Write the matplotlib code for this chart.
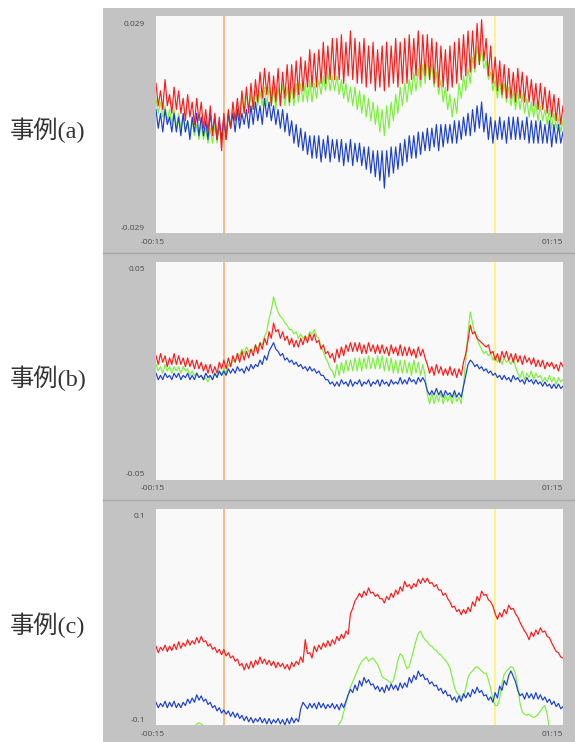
import numpy as np
import matplotlib
matplotlib.use("Agg")
import matplotlib.pyplot as plt
from matplotlib.patches import Rectangle
from matplotlib.lines import Line2D

# ---------------- data: one reading every half minute, -00:15 .. 01:15 ----------------
minutes = np.arange(-15, 75.5, 0.5)

# case (a), values in units of 1e-3 (each row = 5 minutes)
red_a_milli = [
    11, 5, 9, 4, 12, 5, 8, 3, 10, 4,
    9, 3, 7, 1, 8, 2, 6, 0, 7, 1,
    6, -1, 4, -2, 5, -3, 3, -4, 2, -7,
    3, -4, 4, -1, 6, 1, 7, 1, 9, 3,
    10, 3, 11, 4, 12, 6, 14, 7, 15, 8,
    14, 5, 13, 6, 15, 5, 14, 7, 16, 6,
    16, 7, 17, 8, 18, 9, 17, 10, 20, 10,
    19, 10, 20, 11, 22, 11, 21, 12, 23, 12,
    23, 12, 24, 11, 22, 13, 25, 12, 23, 11,
    22, 11, 23, 10, 21, 11, 22, 9, 20, 10,
    21, 9, 22, 10, 21, 11, 23, 10, 22, 11,
    23, 11, 24, 12, 23, 13, 25, 12, 24, 13,
    24, 12, 23, 11, 22, 10, 21, 10, 20, 9,
    21, 10, 22, 11, 23, 12, 24, 13, 25, 14,
    25, 15, 27, 16, 28, 17, 23, 13, 21, 11,
    18, 9, 17, 8, 16, 7, 15, 7, 14, 6,
    15, 7, 14, 6, 13, 6, 12, 5, 11, 4,
    11, 4, 10, 3, 9, 2, 8, 1, 7, 0,
    5]
green_a_milli = [
    7, 3, 6, 2, 5, 1, 4, 0, 4, -1,
    3, -1, 2, -2, 1, -3, 1, -3, 0, -4,
    0, -4, -1, -5, -1, -5, 0, -5, 0, -4,
    0, -3, 2, -1, 4, 1, 5, 2, 7, 3,
    8, 4, 8, 4, 9, 5, 9, 5, 10, 5,
    10, 5, 10, 4, 10, 5, 11, 5, 10, 5,
    10, 5, 11, 6, 11, 6, 11, 6, 12, 6,
    11, 7, 12, 8, 13, 9, 14, 9, 13, 9,
    13, 8, 12, 7, 11, 6, 10, 5, 10, 4,
    9, 3, 8, 2, 7, 1, 6, 0, 5, -2,
    4, -3, 5, -1, 6, 1, 8, 3, 10, 5,
    11, 6, 12, 8, 14, 9, 15, 10, 16, 11,
    17, 12, 16, 10, 14, 8, 12, 6, 10, 4,
    8, 2, 7, 3, 11, 7, 13, 9, 15, 11,
    18, 14, 21, 16, 20, 15, 17, 12, 14, 9,
    12, 7, 12, 7, 11, 6, 10, 5, 9, 4,
    9, 4, 8, 3, 7, 2, 6, 2, 6, 1,
    5, 1, 4, 0, 4, -1, 3, -1, 2, -2,
    1]
blue_a_milli = [
    4, -1, 3, -2, 4, 0, 2, -2, 3, -2,
    2, -3, 3, -2, 1, -4, 2, -2, 3, -3,
    2, -3, 1, -4, 3, -2, 2, -4, 1, -4,
    2, -4, 3, -1, 3, -2, 4, -1, 3, 0,
    4, -1, 5, 0, 6, 1, 5, 0, 7, 2,
    6, 1, 5, 0, 4, -1, 4, -2, 3, -3,
    1, -5, 0, -6, -1, -7, -2, -8, -3, -9,
    -3, -9, -3, -10, -4, -9, -3, -10, -4, -9,
    -4, -10, -4, -11, -5, -10, -4, -11, -5, -10,
    -5, -11, -6, -12, -6, -13, -7, -14, -7, -15,
    -7, -17, -7, -14, -6, -13, -6, -12, -5, -11,
    -4, -10, -3, -9, -3, -9, -2, -8, -2, -7,
    -1, -7, -1, -6, 0, -7, 0, -6, 0, -5,
    0, -5, 1, -5, 1, -4, 2, -3, 3, -3,
    4, -2, 5, -1, 6, -2, 3, -4, 2, -5,
    1, -4, 2, -4, 1, -5, 2, -4, 2, -4,
    2, -4, 1, -4, 2, -5, 1, -5, 1, -5,
    1, -5, 0, -5, 1, -6, 0, -5, 0, -5,
    -2]

# case (b), values in units of 1e-3
red_b_milli = [
    7, 3, 8, 4, 7, 2, 6, 3, 8, 3,
    7, 3, 6, 2, 6, 2, 5, 1, 5, 1,
    4, 0, 3, -1, 3, -1, 2, -1, 4, 1,
    5, 1, 6, 2, 7, 4, 8, 4, 9, 5,
    9, 6, 10, 7, 12, 8, 13, 10, 15, 12,
    18, 15, 22, 18, 19, 15, 18, 14, 16, 12,
    15, 11, 14, 11, 15, 12, 16, 13, 17, 14,
    17, 13, 14, 10, 12, 8, 9, 6, 8, 4,
    10, 6, 11, 7, 12, 9, 13, 9, 13, 9,
    13, 8, 12, 8, 13, 9, 12, 8, 12, 8,
    12, 8, 11, 7, 12, 8, 11, 7, 12, 7,
    11, 7, 11, 7, 10, 6, 11, 7, 10, 6,
    3, -1, 2, -2, 3, -1, 2, -2, 1, -2,
    2, -2, 1, -3, 1, -2, 4, 8, 14, 21,
    17, 18, 15, 14, 13, 12, 11, 12, 8, 9,
    5, 8, 4, 9, 6, 9, 5, 8, 4, 8,
    4, 7, 3, 7, 4, 6, 3, 6, 2, 5,
    2, 5, 1, 4, 2, 4, 1, 3, 0, 4,
    2]
green_b_milli = [
    3, 0, 2, -1, 3, 0, 2, -1, 2, 0,
    2, -1, 2, 0, 1, -2, 0, -2, -1, -3,
    -2, -4, -3, -5, -2, -4, -1, -3, 0, -2,
    1, -1, 3, 2, 5, 4, 8, 7, 10, 8,
    11, 9, 10, 9, 12, 10, 13, 12, 16, 18,
    24, 28, 34, 30, 27, 25, 24, 22, 21, 19,
    19, 17, 18, 15, 17, 15, 16, 15, 18, 17,
    19, 16, 15, 11, 9, 6, 4, 1, 0, -3,
    3, -2, 4, -1, 5, 0, 5, 0, 6, 0,
    6, 0, 6, 1, 7, 1, 6, 1, 7, 1,
    7, 0, 6, 0, 6, -1, 5, -1, 5, -1,
    5, -1, 4, -2, 5, -1, 4, -2, 3, -2,
    -11, -15, -10, -15, -11, -14, -10, -15, -11, -14,
    -11, -15, -10, -14, -12, -15, -6, 5, 18, 27,
    22, 17, 15, 12, 10, 8, 9, 7, 8, 5,
    7, 4, 6, 3, 6, 4, 5, 3, 6, 2,
    -1, -3, 0, -4, -1, -3, 0, -4, -1, -3,
    -2, -5, -3, -5, -2, -5, -3, -6, -3, -5,
    -4]
blue_b_milli = [
    -1, -4, -2, -4, -1, -3, -2, -4, -1, -3,
    -1, -4, -2, -3, -1, -4, -2, -4, -1, -3,
    -2, -4, -1, -3, -2, -4, -1, -3, 0, -2,
    0, -2, 1, -1, 1, -1, 2, 0, 1, -1,
    2, 0, 3, 1, 3, 2, 5, 3, 7, 5,
    9, 11, 13, 10, 9, 7, 8, 5, 6, 4,
    5, 3, 4, 2, 3, 1, 2, 0, 2, 0,
    1, -1, 0, -2, -2, -4, -4, -6, -5, -7,
    -5, -7, -4, -6, -5, -7, -4, -7, -5, -6,
    -4, -7, -5, -6, -4, -7, -5, -6, -4, -7,
    -4, -6, -5, -7, -4, -6, -5, -6, -3, -6,
    -4, -6, -3, -5, -4, -6, -3, -5, -3, -5,
    -9, -11, -9, -11, -8, -11, -9, -12, -9, -11,
    -10, -12, -9, -12, -10, -12, -7, -2, 3, 5,
    4, 2, 3, 1, 2, 0, 1, -1, 0, -2,
    -1, -3, -2, -4, -2, -4, -3, -5, -2, -4,
    -3, -5, -4, -6, -3, -5, -4, -6, -4, -6,
    -5, -7, -5, -7, -6, -8, -6, -8, -6, -8,
    -7]

# case (c), values in units of 1e-3
red_c_milli = [
    -27, -33, -28, -31, -26, -32, -27, -31, -25, -30,
    -23, -29, -24, -27, -21, -26, -22, -25, -19, -24,
    -18, -23, -22, -27, -25, -30, -28, -33, -30, -35,
    -30, -36, -33, -38, -36, -41, -39, -45, -43, -49,
    -43, -48, -41, -47, -40, -44, -37, -43, -39, -44,
    -40, -45, -41, -47, -42, -46, -43, -48, -44, -49,
    -42, -46, -41, -44, -37, -42, -21, -34, -33, -38,
    -27, -32, -26, -30, -24, -28, -22, -27, -21, -25,
    -18, -22, -16, -20, -13, -16, 3, 8, 15, 18,
    22, 18, 24, 20, 27, 22, 23, 19, 21, 17,
    17, 13, 19, 16, 22, 18, 25, 21, 28, 24,
    33, 28, 30, 26, 31, 28, 35, 31, 36, 32,
    36, 31, 32, 28, 30, 25, 25, 20, 22, 17,
    14, 9, 10, 5, 7, 2, 7, 3, 9, 5,
    14, 10, 19, 15, 24, 20, 21, 16, 14, 10,
    3, -2, 4, 0, 7, 3, 11, 7, 8, 3,
    0, -5, -9, -13, -16, -21, -14, -18, -12, -16,
    -10, -14, -13, -18, -19, -24, -28, -32, -33, -37,
    -38]
green_c_milli = [
    -106, -108, -107, -109, -105, -108, -106, -109, -105, -107,
    -106, -108, -104, -106, -103, -105, -101, -102, -99, -98,
    -99, -101, -103, -106, -108, -110, -111, -113, -114, -116,
    -117, -119, -118, -120, -118, -121, -119, -120, -118, -121,
    -119, -121, -120, -122, -120, -121, -119, -122, -120, -121,
    -120, -122, -119, -121, -120, -122, -119, -121, -118, -120,
    -117, -119, -116, -118, -115, -117, -114, -116, -113, -115,
    -112, -114, -111, -113, -110, -112, -109, -111, -108, -110,
    -101, -99, -96, -88, -80, -72, -65, -60, -55, -50,
    -45, -41, -39, -37, -41, -39, -38, -41, -44, -49,
    -55, -57, -58, -60, -61, -59, -50, -40, -34, -36,
    -42, -48, -46, -38, -30, -22, -15, -13, -18, -21,
    -23, -26, -27, -30, -31, -34, -35, -38, -40, -43,
    -47, -56, -65, -70, -72, -74, -74, -66, -56, -52,
    -50, -47, -46, -48, -50, -52, -52, -58, -66, -76,
    -82, -82, -75, -62, -53, -50, -48, -46, -47, -53,
    -65, -80, -88, -90, -91, -90, -92, -93, -92, -90,
    -87, -84, -82, -90, -104, -112, -116, -118, -119, -120,
    -120]
blue_c_milli = [
    -79, -84, -80, -83, -78, -84, -79, -83, -78, -84,
    -80, -84, -79, -82, -76, -80, -75, -79, -72, -77,
    -73, -78, -76, -81, -79, -84, -82, -87, -84, -89,
    -86, -90, -87, -92, -88, -93, -89, -94, -91, -96,
    -92, -97, -93, -98, -94, -97, -93, -98, -94, -99,
    -94, -99, -95, -98, -94, -99, -95, -100, -94, -99,
    -93, -98, -94, -97, -85, -79, -82, -85, -80, -84,
    -80, -85, -79, -84, -80, -85, -81, -84, -80, -85,
    -81, -86, -80, -84, -78, -72, -67, -70, -63, -68,
    -59, -64, -56, -61, -58, -63, -62, -67, -64, -69,
    -65, -70, -63, -68, -62, -67, -63, -68, -61, -66,
    -61, -65, -56, -61, -54, -58, -50, -55, -53, -58,
    -57, -62, -60, -64, -63, -68, -66, -71, -68, -73,
    -72, -77, -74, -79, -73, -78, -71, -75, -70, -74,
    -67, -71, -65, -70, -68, -73, -72, -77, -74, -79,
    -70, -75, -64, -68, -59, -63, -54, -50, -55, -60,
    -68, -73, -71, -76, -70, -75, -71, -76, -70, -76,
    -72, -77, -74, -79, -76, -81, -78, -83, -80, -85,
    -83]

case_labels = ["事例(a)", "事例(b)", "事例(c)"]
y_limits = [0.029, 0.05, 0.1]
y_tick_texts = [("0.029", "-0.029"), ("0.05", "-0.05"), ("0.1", "-0.1")]
x_tick_texts = ("-00:15", "01:15")
event_start, event_end = 0, 60
series = [
    (green_a_milli, blue_a_milli, red_a_milli),
    (green_b_milli, blue_b_milli, red_b_milli),
    (green_c_milli, blue_c_milli, red_c_milli),
]
for grp in series:
    for s in grp:
        assert len(s) == len(minutes), len(s)

# ---------------- styling ----------------
W, H = 575, 742
fig = plt.figure(figsize=(W / 100, H / 100), dpi=100)
fig.patch.set_facecolor("white")

GRAY = "#c3c3c3"
DIV = "#a9a9a9"
colors = ["#7cf03c", "#1b3fd2", "#ff1a1a"]

frames = [(8, 253), (253, 500), (500, 742)]
axes_px = [(16, 233), (262, 480), (509, 725)]
label_y = [130, 378, 625]
x0, x1 = 156, 563

for (ft, fb) in frames:
    fig.patches.append(Rectangle((103 / W, 1 - fb / H), 1 - 103 / W, (fb - ft) / H,
                                 transform=fig.transFigure, facecolor=GRAY,
                                 edgecolor="none", zorder=-5))
for yd in (253, 500):
    fig.lines.append(Line2D([103 / W, 1], [1 - yd / H, 1 - yd / H],
                            transform=fig.transFigure, color=DIV, lw=1.0, zorder=-4))

tick_font = dict(family="Open Sans", size=6, color="#4a4a4a")

for i, (top, bot) in enumerate(axes_px):
    ax = fig.add_axes([x0 / W, 1 - bot / H, (x1 - x0) / W, (bot - top) / H])
    ax.set_zorder(5)
    ax.set_facecolor("#f9f9f9")
    for s in ax.spines.values():
        s.set_visible(False)
    ax.set_xticks([])
    ax.set_yticks([])
    lim = y_limits[i]
    ax.set_xlim(-15, 75)
    ax.set_ylim(-lim, lim)
    ax.axvline(event_start, color="#f5b77c", lw=1.3, zorder=1)
    ax.axvline(event_end, color="#fff27e", lw=1.3, zorder=1)
    for vals, c in zip(series[i], colors):
        ax.plot(minutes, np.array(vals) / 1000.0, color=c, lw=0.85, zorder=2)
    hgt = bot - top
    ax.text(-11 / (x1 - x0), 1 - 8 / hgt, y_tick_texts[i][0], transform=ax.transAxes,
            ha="right", va="center", clip_on=False, **tick_font)
    ax.text(-11 / (x1 - x0), 5 / hgt, y_tick_texts[i][1], transform=ax.transAxes,
            ha="right", va="center", clip_on=False, **tick_font)
    ax.text(-3 / (x1 - x0), -9 / hgt, x_tick_texts[0], transform=ax.transAxes,
            ha="center", va="center", clip_on=False, **tick_font)
    ax.text(1.0, -9 / hgt, x_tick_texts[1], transform=ax.transAxes,
            ha="right", va="center", clip_on=False, **tick_font)
    fig.text(10 / W, 1 - label_y[i] / H, case_labels[i], ha="left", va="center",
             fontsize=17.5, color="#333333",
             family=["Liberation Serif", "Noto Sans CJK JP"])

fig.savefig("out.png", dpi=100, facecolor="white")
